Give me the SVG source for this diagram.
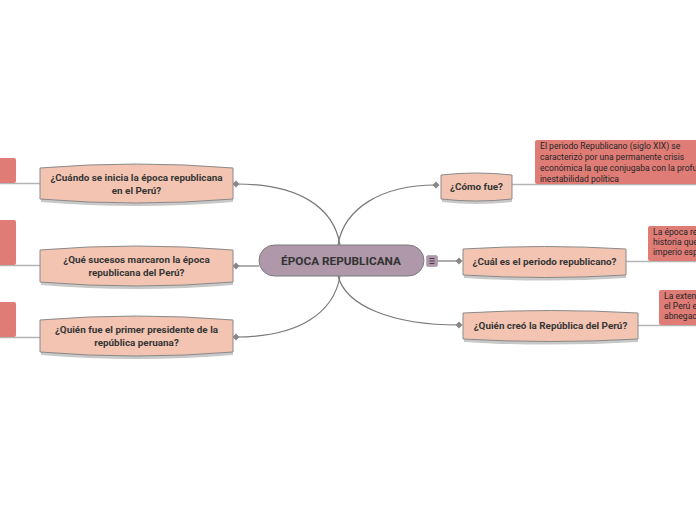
<svg xmlns="http://www.w3.org/2000/svg" width="696" height="520" viewBox="0 0 696 520">
<style>
.q{fill:#f2c4b1;stroke:#8a8a8a;stroke-width:1}
.sh{fill:#c8c8c8}
.r{fill:#e07c76}
.qt{font-family:Roboto,"Liberation Sans",sans-serif;font-weight:bold;font-size:9.9px;fill:#363636;text-anchor:middle}
.rt{font-family:Roboto,"Liberation Sans",sans-serif;font-size:8.6px;fill:#262626}
.ln{fill:none;stroke:#7a7a7a;stroke-width:1.2}
.ls{fill:none;stroke:#b5b5b5;stroke-width:1.5}
.dot{fill:#888}
</style>
<rect width="696" height="520" fill="#ffffff"/>
<g id="connectors">
<path class="ln" d="M236,184 C300,184 334,208 340,245"/>
<path class="ln" d="M436,185 C382,185 344,208 338,245"/>
<path class="ln" d="M340,276 C334,312 300,337 236,337"/>
<path class="ln" d="M338,276 C346,306 392,325 459,325"/>
<path class="ln" d="M259,266 L236,266"/>
<path class="ln" d="M437,261 L459,261"/>
<path class="ls" d="M0,183.5 L40,183.5"/>
<path class="ls" d="M0,265.5 L40,265.5"/>
<path class="ls" d="M0,337.5 L40,337.5"/>
<path class="ls" d="M512,184.5 L696,184.5"/>
<path class="ls" d="M626,261.5 L696,261.5"/>
<path class="ls" d="M638,325.5 L696,325.5"/>
<rect class="dot" x="233.5" y="181.5" width="5" height="5" transform="rotate(45 236 184)"/>
<rect class="dot" x="233.5" y="263.5" width="5" height="5" transform="rotate(45 236 266)"/>
<rect class="dot" x="233.5" y="334.5" width="5" height="5" transform="rotate(45 236 337)"/>
<rect class="dot" x="433.5" y="182.5" width="5" height="5" transform="rotate(45 436 185)"/>
<rect class="dot" x="456.5" y="258.5" width="5" height="5" transform="rotate(45 459 261)"/>
<rect class="dot" x="456.5" y="322.5" width="5" height="5" transform="rotate(45 459 325)"/>
</g>
<g id="center">
<rect x="259" y="245" width="165" height="31" rx="15.5" fill="#ae98a9" stroke="#7c7c7c" stroke-width="1"/>
<text x="341" y="265" font-family="Roboto,'Liberation Sans',sans-serif" font-weight="bold" font-size="11.8" fill="#333" text-anchor="middle">ÉPOCA REPUBLICANA</text>
<rect x="426.5" y="255.5" width="11" height="11" rx="1.5" fill="#ae98a9" stroke="#9a8898" stroke-width="0.5"/>
<path d="M429.5,258.5h5M429.5,261h5M429.5,263.5h5" stroke="#4a3f48" stroke-width="1"/>
</g>
<g id="n1">
<path class="sh" d="M41,170 Q136.5,162 233,170 L233,202 Q136.5,210 41,202 Z"/>
<path class="q" d="M40,168 Q136.5,160 233,168 L233,199 Q136.5,207 40,199 Z"/>
<text class="qt" x="136.5" y="181">¿Cuándo se inicia la época republicana</text>
<text class="qt" x="136.5" y="194">en el Perú?</text>
</g>
<g id="n2">
<path class="sh" d="M41,252 Q136.5,244 233,252 L233,285 Q136.5,293 41,285 Z"/>
<path class="q" d="M40,250 Q136.5,242 233,250 L233,282 Q136.5,290 40,282 Z"/>
<text class="qt" x="136.5" y="263">¿Qué sucesos marcaron la época</text>
<text class="qt" x="136.5" y="276">republicana del Perú?</text>
</g>
<g id="n3">
<path class="sh" d="M41,322 Q136.5,314 233,322 L233,355 Q136.5,363 41,355 Z"/>
<path class="q" d="M40,320 Q136.5,312 233,320 L233,352 Q136.5,360 40,352 Z"/>
<text class="qt" x="136.5" y="333">¿Quién fue el primer presidente de la</text>
<text class="qt" x="136.5" y="346">república peruana?</text>
</g>
<g id="n4">
<path class="sh" d="M442,176 Q476.5,172 512,176 L512,202 Q476.5,206 442,202 Z"/>
<path class="q" d="M441,175 Q476.5,171 512,175 L512,199 Q476.5,203 441,199 Z"/>
<text class="qt" x="476.5" y="190">¿Cómo fue?</text>
</g>
<g id="n5">
<path class="sh" d="M464,250 Q544.5,245 626,250 L626,278 Q544.5,283 464,278 Z"/>
<path class="q" d="M463,249 Q544.5,244 626,249 L626,275 Q544.5,280 463,275 Z"/>
<text class="qt" x="544.5" y="265">¿Cuál es el periodo republicano?</text>
</g>
<g id="n6">
<path class="sh" d="M464,314 Q550.5,309 638,314 L638,342 Q550.5,347 464,342 Z"/>
<path class="q" d="M463,313 Q550.5,308 638,313 L638,339 Q550.5,344 463,339 Z"/>
<text class="qt" x="550.5" y="329">¿Quién creó la República del Perú?</text>
</g>
<g id="r1">
<rect class="r" x="535" y="140" width="170" height="44" rx="2"/>
<text class="rt" x="540" y="149">El periodo Republicano (siglo XIX) se</text>
<text class="rt" x="540" y="160">caracterizó por una permanente crisis</text>
<text class="rt" x="540" y="171">económica la que conjugaba con la profu</text>
<text class="rt" x="540" y="182">inestabilidad política</text>
</g>
<g id="r2">
<rect class="r" x="648" y="226" width="60" height="35" rx="2"/>
<text class="rt" x="653" y="235">La época re</text>
<text class="rt" x="653" y="245">historia que</text>
<text class="rt" x="653" y="255">imperio esp</text>
</g>
<g id="r3">
<rect class="r" x="659" y="290" width="50" height="35" rx="2"/>
<text class="rt" x="664" y="299">La exten</text>
<text class="rt" x="664" y="309">el Perú e</text>
<text class="rt" x="664" y="319">abnegac</text>
</g>
<g id="l1"><rect class="r" x="-10" y="158" width="26" height="25" rx="2"/></g>
<g id="l2"><rect class="r" x="-10" y="220" width="26" height="45" rx="2"/></g>
<g id="l3"><rect class="r" x="-10" y="302" width="26" height="35" rx="2"/></g>
</svg>
